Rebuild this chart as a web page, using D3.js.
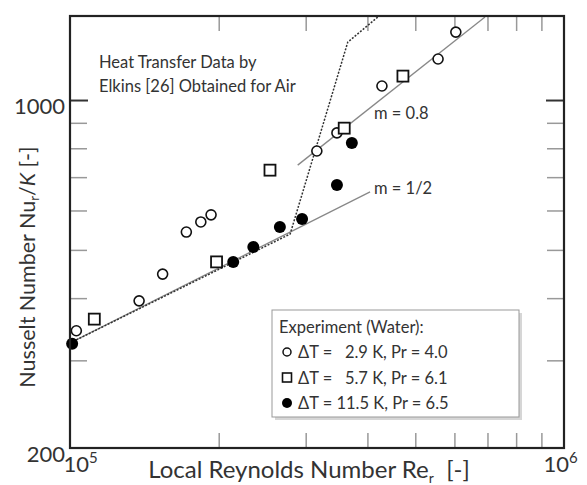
<!DOCTYPE html>
<html>
<head>
<meta charset="utf-8">
<script src="https://cdn.jsdelivr.net/npm/d3@7/dist/d3.min.js"></script>
<style>
body { margin:0; background:#fff; }
svg { font-family: Lato, 'Open Sans', sans-serif; }
text { fill:#333; }
.minor line { stroke:#999; stroke-width:1.5; }
.major line { stroke:#333; stroke-width:2; }
</style>
</head>
<body>
<script>
// experiment (water)
var reOpen = [1.03e5, 1.38e5, 1.54e5, 1.72e5, 1.84e5, 1.93e5, 3.16e5, 3.47e5, 4.28e5, 5.56e5, 6.04e5];
var nuOpen = [344, 395, 447, 543, 569, 588, 790, 859, 1067, 1209, 1369];
var reSquare = [1.12e5, 1.98e5, 2.54e5, 3.59e5, 4.72e5];
var nuSquare = [363, 473, 723, 878, 1117];
var reFilled = [1.01e5, 2.14e5, 2.35e5, 2.66e5, 2.95e5, 3.47e5, 3.72e5];
var nuFilled = [324, 473, 507, 556, 577, 675, 820];

// reference lines
var reHalf = [1e5, 4.05e5], nuHalf = [325, 654];
var reEight = [2.89e5, 6.92e5], nuEight = [740, 1468];
var reAir = [1e5, 2.79e5, 3.65e5, 4.2e5], nuAir = [325, 538, 1307, 1468];

// ticks
var yLabels = [200, 1000];
var yMinor = [300, 400, 500, 600, 700, 800, 900];
var xLabels = [1e5, 1e6];
var xMinor = [2e5, 3e5, 4e5, 5e5, 6e5, 7e5, 8e5, 9e5];
var legendRows = ['\u0394T =   2.9 K, Pr = 4.0', '\u0394T =   5.7 K, Pr = 6.1', '\u0394T = 11.5 K, Pr = 6.5'];

var W = 587, H = 485;
var box = {left:70, right:564, top:16, bottom:448};

var svg = d3.select('body').append('svg')
  .attr('width', W)
  .attr('height', H);

svg.append('defs').append('clipPath').attr('id', 'clip')
  .append('rect')
  .attr('x', box.left).attr('y', box.top)
  .attr('width', box.right - box.left).attr('height', box.bottom - box.top);

var x = d3.scaleLog().domain([1e5, 1e6]).range([box.left, box.right]);
var y = d3.scaleLog().domain([200, 1475]).range([box.bottom, box.top]);

function pairs(a, b) { return a.map(function(d, i) { return [d, b[i]]; }); }

var line = d3.line()
  .x(function(d) { return x(d[0]); })
  .y(function(d) { return y(d[1]); });

// ticks inside the frame
function ticks(axis, cls, tx, ty) {
  var g = svg.append('g')
    .attr('class', cls)
    .attr('transform', 'translate(' + tx + ',' + ty + ')')
    .call(axis);
  g.select('.domain').remove();
  g.selectAll('text').remove();
}
ticks(d3.axisLeft(y).tickValues(yMinor).tickSize(-17), 'minor', box.left, 0);
ticks(d3.axisRight(y).tickValues(yMinor).tickSize(-17), 'minor', box.right, 0);
ticks(d3.axisLeft(y).tickValues([1000]).tickSize(-18), 'major', box.left, 0);
ticks(d3.axisRight(y).tickValues([1000]).tickSize(-18), 'major', box.right, 0);
ticks(d3.axisBottom(x).tickValues(xMinor).tickSize(-15), 'minor', 0, box.bottom);
ticks(d3.axisTop(x).tickValues(xMinor).tickSize(-15), 'minor', 0, box.top);

// tick labels
var yl = svg.append('g')
  .attr('transform', 'translate(' + box.left + ',0)')
  .call(d3.axisLeft(y).tickValues(yLabels).tickSize(0).tickPadding(5).tickFormat(d3.format('d')));
yl.select('.domain').remove();
yl.selectAll('text').attr('font-size', 22).attr('fill', '#222').attr('dy', '0.6em')
  .style('font-family', 'Lato, sans-serif');

var xl = svg.append('g')
  .attr('transform', 'translate(0,' + box.bottom + ')')
  .call(d3.axisBottom(x).tickValues(xLabels).tickSize(0).tickPadding(8).tickFormat(function() { return ''; }));
xl.select('.domain').remove();
xl.selectAll('text')
  .attr('font-size', 22).attr('fill', '#222')
  .attr('dx', function(d) { return d === 1e5 ? 10 : -4; })
  .each(function(d) {
    var t = d3.select(this);
    t.append('tspan').text('10');
    t.append('tspan').attr('dy', -9).attr('font-size', 15).text(Math.round(Math.log10(d)));
  })
  .style('font-family', 'Lato, sans-serif');

// reference lines
var lines = svg.append('g').attr('clip-path', 'url(#clip)');
lines.append('path')
  .datum(pairs(reHalf, nuHalf))
  .attr('d', line)
  .attr('fill', 'none').attr('stroke', '#888').attr('stroke-width', 1.3);
lines.append('path')
  .datum(pairs(reEight, nuEight))
  .attr('d', line)
  .attr('fill', 'none').attr('stroke', '#888').attr('stroke-width', 1.3);
lines.append('path')
  .datum(pairs(reAir, nuAir))
  .attr('d', line)
  .attr('fill', 'none').attr('stroke', '#333').attr('stroke-width', 1.5)
  .attr('stroke-dasharray', '2,1.5');

// markers
var pts = svg.append('g');
pts.selectAll('circle.open')
  .data(pairs(reOpen, nuOpen))
  .enter().append('circle')
  .attr('class', 'open')
  .attr('cx', function(d) { return x(d[0]); })
  .attr('cy', function(d) { return y(d[1]); })
  .attr('r', 5)
  .attr('fill', '#fff').attr('stroke', '#111').attr('stroke-width', 1.6);

pts.selectAll('rect.sq')
  .data(pairs(reSquare, nuSquare))
  .enter().append('rect')
  .attr('class', 'sq')
  .attr('x', function(d) { return x(d[0]) - 5.5; })
  .attr('y', function(d) { return y(d[1]) - 5.5; })
  .attr('width', 11).attr('height', 11)
  .attr('fill', '#fff').attr('stroke', '#111').attr('stroke-width', 1.8);

pts.selectAll('circle.filled')
  .data(pairs(reFilled, nuFilled))
  .enter().append('circle')
  .attr('class', 'filled')
  .attr('cx', function(d) { return x(d[0]); })
  .attr('cy', function(d) { return y(d[1]); })
  .attr('r', 6)
  .attr('fill', '#000');

// frame
svg.append('rect')
  .attr('x', box.left).attr('y', box.top)
  .attr('width', box.right - box.left).attr('height', box.bottom - box.top)
  .attr('fill', 'none').attr('stroke', '#222').attr('stroke-width', 2.2);

// annotations
var note = svg.append('text').attr('x', 99).attr('y', 68).attr('font-size', 16.5);
note.append('tspan').attr('x', 99).text('Heat Transfer Data by');
note.append('tspan').attr('x', 99).attr('dy', 24).text('Elkins [26] Obtained for Air');

svg.append('text').attr('x', 374).attr('y', 119).attr('font-size', 16.5).text('m = 0.8');
svg.append('text').attr('x', 374).attr('y', 194).attr('font-size', 16.5).text('m = 1/2');

// legend
var lg = svg.append('g');
lg.append('rect')
  .attr('x', 275).attr('y', 313).attr('width', 247).attr('height', 107)
  .attr('fill', '#bbb').attr('opacity', 0.6);
lg.append('rect')
  .attr('x', 272).attr('y', 310).attr('width', 247).attr('height', 107)
  .attr('fill', '#fff').attr('stroke', '#999').attr('stroke-width', 1);
lg.append('text').attr('x', 279).attr('y', 333).attr('font-size', 16.5).attr('fill', '#444')
  .text('Experiment (Water):');
lg.selectAll('text.row')
  .data(legendRows)
  .enter().append('text')
  .attr('class', 'row')
  .attr('x', 298)
  .attr('y', function(d, i) { return 358 + i * 25.5; })
  .attr('font-size', 16.5)
  .attr('fill', '#444')
  .style('white-space', 'pre')
  .text(function(d) { return d; });
lg.append('circle').attr('cx', 287).attr('cy', 352).attr('r', 4)
  .attr('fill', '#fff').attr('stroke', '#111').attr('stroke-width', 1.5);
lg.append('rect').attr('x', 282.5).attr('y', 373).attr('width', 9).attr('height', 9)
  .attr('fill', '#fff').attr('stroke', '#111').attr('stroke-width', 1.6);
lg.append('circle').attr('cx', 287).attr('cy', 403).attr('r', 5).attr('fill', '#000');

// axis titles
var xt = svg.append('text')
  .attr('x', 309).attr('y', 478)
  .attr('text-anchor', 'middle')
  .attr('font-size', 24)
  .style('white-space', 'pre');
xt.append('tspan').text('Local Reynolds Number Re');
xt.append('tspan').attr('font-size', 14).attr('dy', 5).text('r');
xt.append('tspan').attr('dy', -5).text('  [-]');

var yt = svg.append('text')
  .attr('transform', 'translate(35,267) rotate(-90)')
  .attr('text-anchor', 'middle')
  .attr('font-size', 21.5);
yt.append('tspan').text('Nusselt Number Nu');
yt.append('tspan').attr('font-size', 13).attr('dy', 4).text('r');
yt.append('tspan').attr('dy', -4).text('/');
yt.append('tspan').attr('font-style', 'italic').text('K');
yt.append('tspan').text(' [-]');
</script>
</body>
</html>
